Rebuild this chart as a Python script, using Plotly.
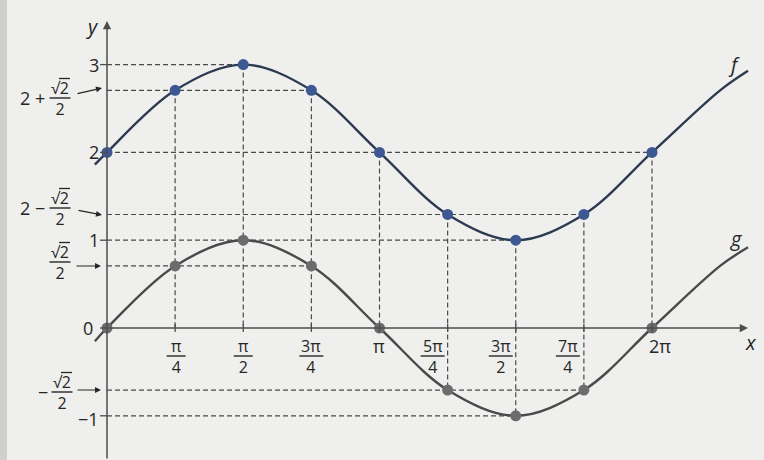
import numpy as np
import plotly.graph_objects as go

PI = np.pi
R2 = np.sqrt(2) / 2

# ---- data -------------------------------------------------------------
# marked abscissas (multiples of pi/4)
x_keys = [0, PI/4, PI/2, 3*PI/4, PI, 5*PI/4, 3*PI/2, 7*PI/4, 2*PI]
f_keys = [2, 2 + R2, 3, 2 + R2, 2, 2 - R2, 1, 2 - R2, 2]
g_keys = [0, R2, 1, R2, 0, -R2, -1, -R2, 0]

# curve points (marked points plus the visible ends)
curve_x = [-0.14] + x_keys + [9*PI/4, 7.39]
f_curve = [1.86] + f_keys + [2 + R2, 2.93]
g_curve = [-0.15] + g_keys + [R2, 0.92]

# x tick labels: (value, numerator, denominator)
x_tick_vals = [PI/4, PI/2, 3*PI/4, PI, 5*PI/4, 3*PI/2, 7*PI/4, 2*PI]
x_tick_num = ["π", "π", "3π", "π", "5π", "3π", "7π", "2π"]
x_tick_den = ["4", "2", "4", "", "4", "2", "4", ""]

y_tick_vals = [3, 2, 1, 0, -1]
y_tick_text = ["3", "2", "1", "0", "−1"]

# ---- geometry of the page (pixels) ------------------------------------
W, H = 764, 460
X0_PX, Y0_PX = 107, 328        # origin
SX, SY = 86.74, 87.8           # pixels per unit
XR = [-X0_PX / SX, (W - X0_PX) / SX]
YR = [-(H - Y0_PX) / SY, Y0_PX / SY]

def dx(px):
    return (px - X0_PX) / SX

def dy(py):
    return (Y0_PX - py) / SY

FONT = "Open Sans, DejaVu Sans, sans-serif"
TXT = "#262626"
FCOL = "#2e3a52"
FDOT = "#3d5892"
GCOL = "#4a4a4a"
GDOT = "#6c6c6c"
DASH = "#4a4a4a"
AX = "#4d4d4d"

fig = go.Figure()
shapes = []
ann = []

# ---- dashed guide lines ----------------------------------------------
levels = {}
for xv, fv, gv in zip(x_keys, f_keys, g_keys):
    for v in (fv, gv):
        k = round(v, 6)
        if abs(k) < 1e-9:
            continue
        levels[k] = max(levels.get(k, 0), xv)
for yv, xmax in levels.items():
    if xmax <= 0:
        continue
    shapes.append(dict(type="line", xref="x", yref="y", x0=0, x1=xmax, y0=yv, y1=yv,
                       line=dict(color=DASH, width=1.2, dash="5px,3px"), layer="below"))
for xv, fv, gv in zip(x_keys, f_keys, g_keys):
    if xv == 0:
        continue
    shapes.append(dict(type="line", xref="x", yref="y", x0=xv, x1=xv, y0=fv, y1=min(gv, 0),
                       line=dict(color=DASH, width=1.2, dash="5px,3px"), layer="below"))

# ---- axes ---------------------------------------------------------------
ann.append(dict(x=0, y=dy(21), ax=0, ay=YR[0], xref="x", yref="y", axref="x", ayref="y",
                text="", showarrow=True, arrowhead=2, arrowsize=1.1, arrowwidth=1.5, arrowcolor=AX))
ann.append(dict(x=dx(748), y=0, ax=0, ay=0, xref="x", yref="y", axref="x", ayref="y",
                text="", showarrow=True, arrowhead=2, arrowsize=1.1, arrowwidth=1.5, arrowcolor=AX))
for xv in x_tick_vals:
    shapes.append(dict(type="line", xref="x", yref="y", xsizemode="scaled", ysizemode="pixel",
                       yanchor=0, x0=xv, x1=xv, y0=-4, y1=4, line=dict(color=AX, width=1.3)))
for yv in y_tick_vals:
    shapes.append(dict(type="line", xref="x", yref="y", xsizemode="pixel", xanchor=0,
                       x0=-7, x1=0, y0=yv, y1=yv, line=dict(color=AX, width=1.3)))

# ---- curves and points ------------------------------------------------------
fig.add_trace(go.Scatter(x=curve_x, y=f_curve, mode="lines",
                         line=dict(color=FCOL, width=2.4, shape="spline", smoothing=1.0),
                         hoverinfo="skip", showlegend=False))
fig.add_trace(go.Scatter(x=curve_x, y=g_curve, mode="lines",
                         line=dict(color=GCOL, width=2.4, shape="spline", smoothing=1.0),
                         hoverinfo="skip", showlegend=False))
fig.add_trace(go.Scatter(x=x_keys, y=f_keys, mode="markers",
                         marker=dict(color=FDOT, size=11), hoverinfo="skip", showlegend=False))
fig.add_trace(go.Scatter(x=x_keys, y=g_keys, mode="markers",
                         marker=dict(color=GDOT, size=11), hoverinfo="skip", showlegend=False))

# ---- text helpers ----------------------------------------------------------
YS = 18   # plain label size
FS = 16   # fraction size (line pitch 1.3 em ~ 21 px)

def text(px, py, s, size=YS, xanchor="center", italic=False):
    if italic:
        s = "<i>" + s + "</i>"
    ann.append(dict(x=dx(px), y=dy(py), xref="x", yref="y", text=s, showarrow=False,
                    xanchor=xanchor, yanchor="middle", align="center",
                    font=dict(family=FONT, size=size, color=TXT)))

def hbar(cx, cy, w, width=1.4):
    shapes.append(dict(type="line", xref="x", yref="y", x0=dx(cx - w / 2), x1=dx(cx + w / 2),
                       y0=dy(cy), y1=dy(cy), line=dict(color=TXT, width=width)))

def frac(cx, cy, num, den, w, size=FS):
    text(cx, cy, num + "<br>" + den, size)
    hbar(cx, cy, w)

def sqrt2_over_2(cx, cy):
    frac(cx, cy, "√2", "2", 21)
    hbar(cx + 4.5, cy - 19.5, 11, width=1.3)   # vinculum over the radicand

def arrow(x0, y0, x1, y1):
    ann.append(dict(x=dx(x1), y=dy(y1), ax=dx(x0), ay=dy(y0), xref="x", yref="y",
                    axref="x", ayref="y", text="", showarrow=True, arrowhead=2,
                    arrowsize=1, arrowwidth=1.2, arrowcolor=TXT))

# x tick labels
x_label_shift = [1, 0, 0, -1, -15, -15, -16, 8]
for xv, n, d, s in zip(x_tick_vals, x_tick_num, x_tick_den, x_label_shift):
    cx = X0_PX + xv * SX + s
    if d:
        frac(cx, 356, n, d, 19 if len(n) == 1 else 24)
    else:
        text(cx, 346, n, YS)

# y tick labels
for yv, t in zip(y_tick_vals, y_tick_text):
    py = Y0_PX - yv * SY + (3 if yv < 0 else 0)
    text(101 if yv != 0 else 95, py, t, YS, xanchor="right")

# special y labels with arrows
text(32, 98, "2 +", YS)
sqrt2_over_2(60, 98)
arrow(76, 94, 102, 88)

text(32, 208, "2 −", YS)
sqrt2_over_2(60, 208)
arrow(77, 210, 102, 215)

sqrt2_over_2(60, 262)
arrow(75, 266, 101, 266)

text(43, 392, "−", YS)
sqrt2_over_2(62, 392)
arrow(76, 390, 101, 390)

# axis and function names
text(92, 26, "y", 20, italic=True)
text(751, 342, "x", 20, italic=True)
text(734, 64, "f", 20, italic=True)
text(736, 238, "g", 20, italic=True)

# left page edge of the scan
shapes.insert(0, dict(type="rect", xref="paper", yref="paper", x0=0, x1=7 / W, y0=0, y1=1,
                      fillcolor="#cfcfcd", line=dict(width=0), layer="below"))

fig.update_layout(
    width=W, height=H, margin=dict(l=0, r=0, t=0, b=0),
    paper_bgcolor="#efefed", plot_bgcolor="#efefed",
    xaxis=dict(range=XR, visible=False, fixedrange=True),
    yaxis=dict(range=YR, visible=False, fixedrange=True),
    shapes=shapes, annotations=ann, showlegend=False,
)

fig.write_html("out.html", config={"displayModeBar": False},
               post_script="document.body.style.margin='0px';document.body.style.overflow='hidden';")
